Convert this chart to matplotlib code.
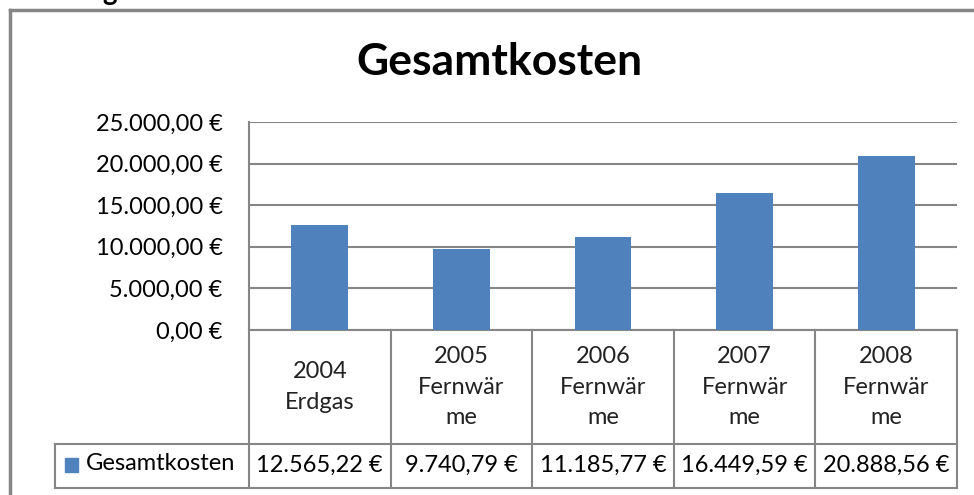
import matplotlib.pyplot as plt
import matplotlib.transforms as mtransforms
from matplotlib.lines import Line2D
from matplotlib.patches import Rectangle
import numpy as np

categories = ["2004\nErdgas", "2005\nFernwär\nme", "2006\nFernwär\nme",
              "2007\nFernwär\nme", "2008\nFernwär\nme"]
gesamtkosten = [12565.22, 9740.79, 11185.77, 16449.59, 20888.56]
y_ticks = [0, 5000, 10000, 15000, 20000, 25000]
series_name = "Gesamtkosten"
title = "Gesamtkosten"

W, H = 974, 495
GRAY = "#868686"
BLUE = "#4F81BD"
FONT = "Lato"
FS = 17


def eur(v):
    s = f"{v:,.2f}".replace(",", "X").replace(".", ",").replace("X", ".")
    return s + " €"


def fx(x):
    return x / W


def fy(y):
    return 1 - y / H


def main():
    fig = plt.figure(figsize=(W / 100, H / 100), dpi=100)
    fig.patch.set_facecolor("white")

    # plot area in pixels
    left, right, top, bottom = 249, 957, 122, 330
    table_mid, table_bot, legend_left = 444, 488, 55

    ax = fig.add_axes([fx(left), fy(bottom), (right - left) / W, (bottom - top) / H])
    x = np.arange(len(gesamtkosten))
    ax.bar(x, gesamtkosten, width=0.4, color=BLUE, zorder=3)
    ax.set_xlim(-0.5, len(x) - 0.5)
    ax.set_ylim(0, 25000)
    ax.set_yticks(y_ticks)
    ax.set_yticklabels([eur(v) for v in y_ticks], fontsize=FS, family=FONT)
    ax.set_xticks([])
    ax.yaxis.grid(True, color=GRAY, linewidth=1.5, zorder=0)
    ax.tick_params(axis="y", length=0, pad=19)
    for s in ["top", "right"]:
        ax.spines[s].set_visible(False)
    for s in ["left", "bottom"]:
        ax.spines[s].set_color(GRAY)
        ax.spines[s].set_linewidth(1.5)

    # data table
    tr = mtransforms.blended_transform_factory(ax.transData, fig.transFigure)
    line_kw = dict(color=GRAY, linewidth=1.5)
    edges = np.arange(len(x) + 1) - 0.5
    for e in edges:
        fig.add_artist(Line2D([e, e], [fy(bottom), fy(table_bot)], transform=tr, **line_kw))
    fig.add_artist(Line2D([fx(legend_left), fx(right)], [fy(table_mid)] * 2,
                          transform=fig.transFigure, **line_kw))
    fig.add_artist(Line2D([fx(legend_left), fx(right)], [fy(table_bot)] * 2,
                          transform=fig.transFigure, **line_kw))
    fig.add_artist(Line2D([fx(legend_left)] * 2, [fy(table_mid), fy(table_bot)],
                          transform=fig.transFigure, **line_kw))

    for i, (cat, val) in enumerate(zip(categories, gesamtkosten)):
        fig.text(i, fy(387), cat, transform=tr, ha="center", va="center",
                 fontsize=FS, family=FONT, linespacing=1.58, color="#222222")
        fig.text(i, fy(465), eur(val), transform=tr, ha="center", va="center",
                 fontsize=FS, family=FONT, color="black")

    # legend key
    fig.add_artist(Rectangle((fx(65), fy(472)), 13 / W, 14 / H, color=BLUE,
                             transform=fig.transFigure))
    fig.text(fx(86), fy(464), series_name, ha="left", va="center",
             fontsize=FS, family=FONT, color="black")

    # title
    fig.text(fx(499), fy(62), title, ha="center", va="center",
             fontsize=32, fontweight="bold", family=FONT, color="black")

    # chart frame and clipped heading above
    fig.add_artist(Line2D([fx(10), fx(974)], [fy(10)] * 2, transform=fig.transFigure,
                          color=GRAY, linewidth=2.5))
    fig.add_artist(Line2D([fx(10)] * 2, [fy(10), fy(495)], transform=fig.transFigure,
                          color=GRAY, linewidth=2.5))
    fig.text(fx(110), fy(-8), "g", ha="center", va="center", fontsize=20,
             fontweight="bold", family=FONT, color="black")

    fig.savefig("out.png", dpi=100, facecolor="white")


if __name__ == "__main__":
    main()
